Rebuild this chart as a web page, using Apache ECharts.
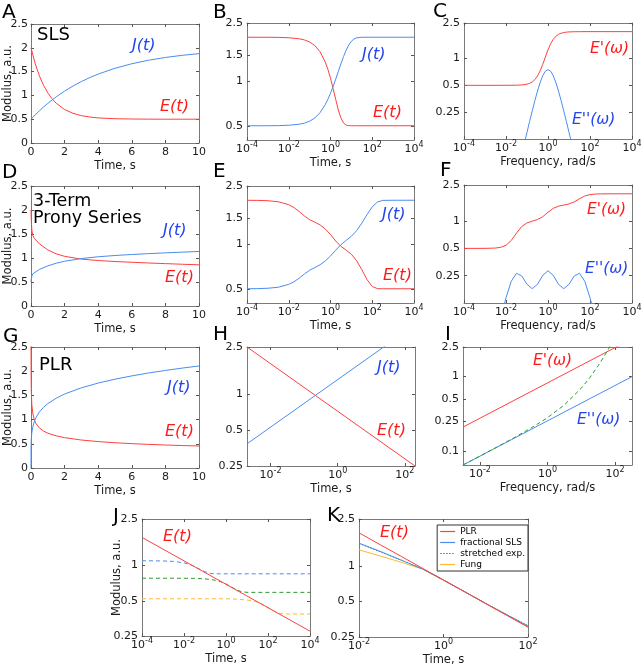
<!DOCTYPE html>
<html><head><meta charset="utf-8">
<script src="https://cdn.jsdelivr.net/npm/echarts@6/dist/echarts.min.js"></script>
<style>html,body{margin:0;padding:0;background:#fff}#c{width:642px;height:670px}</style>
</head><body><div id="c"></div><script>
// ---------------- data ----------------
// A: SLS, linear time
const A_t = [0,0.25,0.5,0.75,1,1.25,1.5,2,2.5,3,3.5,4,5,6,7,8,9,10];
const A_E = [2.0,1.668,1.410,1.209,1.052,0.930,0.835,0.703,0.623,0.575,0.545,0.527,0.510,0.504,0.501,0.500,0.500,0.500];
const A_J = [0.5,0.591,0.676,0.757,0.832,0.903,0.969,1.090,1.197,1.291,1.375,1.448,1.570,1.665,1.739,1.797,1.842,1.877];
// B: SLS, log time
const B_t = [1e-4,1e-3,0.00316,0.01,0.0316,0.0562,0.1,0.178,0.316,0.562,0.75,1,1.334,1.78,2.37,3.16,4.22,5.62,7.5,10,13.3,17.8,31.6,100,1000,1e4];
const B_E = [2.0,1.999,1.995,1.985,1.953,1.918,1.857,1.756,1.593,1.355,1.209,1.052,0.895,0.754,0.640,0.564,0.522,0.505,0.501,0.500,0.500,0.500,0.500,0.500,0.500,0.500];
const B_J = [0.500,0.500,0.501,0.504,0.512,0.521,0.537,0.565,0.614,0.697,0.757,0.832,0.925,1.038,1.171,1.320,1.477,1.633,1.770,1.877,1.947,1.982,1.999,2.0,2.0,2.0];
// C: SLS, frequency
const C_w = [1e-4,1e-3,0.01,0.0316,0.0562,0.1,0.133,0.178,0.237,0.316,0.422,0.562,0.75,1,1.33,1.78,2.37,3.16,4.22,5.62,7.5,10,17.8,31.6,100,1000,1e4];
const C_Ep = [0.5,0.5,0.5002,0.5015,0.5047,0.5149,0.5262,0.546,0.5799,0.636,0.7264,0.860,1.04,1.25,1.46,1.640,1.7736,1.864,1.9201,1.954,1.9738,1.985,1.995,1.9985,2.0,2.0,2.0];
const C_Epp = [0.00015,0.0015,0.015,0.0474,0.0841,0.1485,0.1966,0.2585,0.3367,0.4312,0.537,0.6408,0.72,0.75,0.72,0.6408,0.537,0.4312,0.3367,0.2585,0.1966,0.1485,0.0841,0.0474,0.015,0.0015,0.00015];
// D: 3-term Prony series, linear time
const D_t = [0,0.01,0.02,0.05,0.1,0.2,0.5,1,1.5,2,3,4,5,6,7,8,9,10];
const D_E = [2.0,1.865,1.764,1.586,1.476,1.407,1.295,1.168,1.087,1.035,0.977,0.947,0.927,0.911,0.896,0.883,0.870,0.858];
const D_J = [0.5,0.536,0.564,0.622,0.668,0.704,0.762,0.836,0.891,0.932,0.989,1.026,1.052,1.073,1.091,1.107,1.122,1.137];
// E: Prony, log time
const E_t = [1e-4,3.16e-4,1e-3,0.00316,0.01,0.0178,0.0316,0.0562,0.1,0.178,0.316,0.562,1,1.78,3.16,5.62,10,17.8,31.6,56.2,100,178,316,1000,1e4];
const E_E = [1.9985,1.995,1.985,1.953,1.865,1.784,1.678,1.564,1.476,1.418,1.359,1.276,1.168,1.056,0.971,0.916,0.858,0.776,0.674,0.577,0.518,0.501,0.500,0.500,0.500];
const E_J = [0.500,0.501,0.504,0.512,0.536,0.558,0.590,0.630,0.668,0.697,0.728,0.772,0.836,0.915,0.997,1.066,1.137,1.242,1.396,1.597,1.805,1.946,1.995,2.0,2.0];
// F: Prony, frequency
const F_w = [1e-4,1e-3,0.00316,0.00562,0.01,0.0178,0.0316,0.0562,0.1,0.178,0.316,0.562,1,1.78,3.16,5.62,10,17.8,31.6,56.2,100,178,316,1000,1e4];
const F_Ep = [0.5,0.5004,0.5045,0.5138,0.5413,0.611,0.7373,0.8716,0.955,0.9985,1.040,1.1185,1.25,1.3815,1.46,1.5015,1.545,1.6284,1.7627,1.889,1.9587,1.9862,1.9955,1.9996,2.0];
const F_Epp = [0.0015,0.0155,0.0486,0.0848,0.1428,0.2169,0.266,0.2483,0.2012,0.1797,0.2011,0.2525,0.2833,0.2525,0.2011,0.1797,0.2012,0.2483,0.266,0.2169,0.1428,0.0848,0.0486,0.0155,0.0015];
// G: PLR, linear time
const G_tE = [0.001,0.002,0.005,0.01,0.02,0.05,0.1,0.2,0.3,0.5,0.75,1,1.5,2,3,4,5,6,7,8,9,10];
const G_E = [2.87,2.5,2.077,1.809,1.575,1.311,1.141,0.994,0.916,0.827,0.763,0.72,0.664,0.627,0.578,0.546,0.522,0.503,0.488,0.475,0.464,0.454];
const G_tJ = [0,0.0001,0.001,0.005,0.01,0.02,0.05,0.1,0.2,0.3,0.5,0.75,1,1.5,2,3,4,5,6,7,8,9,10];
const G_J = [0,0.211,0.334,0.461,0.530,0.608,0.730,0.839,0.964,1.045,1.158,1.256,1.33,1.442,1.528,1.657,1.755,1.835,1.903,1.963,2.016,2.064,2.108];
// H: PLR, log time
const H_t = [0.002,200];
const H_E = [2.5,0.25];
const H_J = [0.384,3.84];
// I: PLR, frequency
const I_w = [0.00316,316];
const I_Ep = [0.21,3.23];
const I_Epp = [0.065,1.0];
const I_wN = [0.00316,0.01,0.0316,0.1,0.316,1,3.16,10,17.8,31.6,56.2,100];
const I_EppN = [0.0651,0.0857,0.1131,0.1501,0.2021,0.2808,0.4171,0.700,0.967,1.401,2.125,3.36];
// J: PLR vs SLS fits
const J_t = [1e-4,1e4];
const J_E = [1.74,0.275];
const J_tB = [1e-4,1e-3,0.00316,0.01,0.0178,0.0316,0.0562,0.1,0.178,0.316,1,10,100,1000,1e4];
const J_B = [1.0995,1.095,1.085,1.055,1.025,0.983,0.931,0.884,0.857,0.850,0.85,0.85,0.85,0.85,0.85];
const J_tG = [1e-4,0.01,0.0316,0.1,0.178,0.316,0.562,1,1.78,3.16,5.62,10,31.6,100,1000,1e4];
const J_G = [0.78,0.779,0.7765,0.769,0.761,0.748,0.7265,0.6955,0.657,0.620,0.597,0.5905,0.59,0.59,0.59,0.59];
const J_tO = [1e-4,0.01,1,3.16,10,17.8,31.6,56.2,100,178,316,562,1000,1e4];
const J_O = [0.52,0.52,0.52,0.516,0.508,0.500,0.486,0.466,0.439,0.412,0.393,0.386,0.385,0.385];
// K: model comparison
const K_t = [0.01,0.0316,0.1,0.316,1,3.16,10,31.6,100];
const K_PLR = [1.909,1.515,1.2045,0.957,0.76,0.604,0.4795,0.381,0.3026];
const K_frac = [1.56,1.33,1.12,0.945,0.76,0.605,0.48,0.385,0.31];
const K_str = [1.55,1.32,1.12,0.945,0.76,0.605,0.482,0.387,0.312];
const K_fung = [1.37,1.215,1.075,0.94,0.755,0.605,0.482,0.383,0.305];
const K_names = ['PLR','fractional SLS','stretched exp.','Fung'];
// tick labels
const linX = [0,10,2], linY = [0,2.5,0.5];
const ticksX8 = [1e-4,1e-2,1,1e2,1e4];
const ticksX4 = [1e-2,1,1e2];
const ticksYB = [0.5,1,1.5,2.5];
const ticksYC = [0.25,0.5,1,2.5];
const ticksYI = [0.1,0.25,0.5,1,2.5];

// ---------------- styling / layout ----------------
const FONT = 'DejaVu Sans';
const AX = '#7a7a7a', LC = '#1a1a1a';
const RED = '#ff4040', BLUE = '#4a8cf0', GREEN = '#2e9a2e', ORANGE = '#ffb833';
const TRED = '#ff1a1a', TBLUE = '#2244ee';
const grid = [], xAxis = [], yAxis = [], series = [], graphic = [];

function supFmt(v){ const e = Math.round(Math.log10(v)); return '10{s|' + e + '}'; }
function numFmt(v){ return String(+(+v).toPrecision(3)); }

function mkAxis(gi, dim, pos, spec, main, name, ngap){
  const a = {
    gridIndex: gi, position: pos, type: spec.log ? 'log' : 'value',
    min: spec.min, max: spec.max,
    axisLine: {show: true, onZero: false, lineStyle: {color: AX, width: 1}},
    axisTick: {show: true, inside: true, length: 3, lineStyle: {color: '#555', width: 1}},
    splitLine: {show: false}, minorTick: {show: false},
    axisLabel: {show: main, color: LC, fontFamily: FONT, fontSize: 11, hideOverlap: false},
    silent: true
  };
  if (spec.log) {
    a.logBase = 10;
    a.axisTick.customValues = spec.ticks;
    a.axisLabel.customValues = spec.ticks;
    if (dim === 'x') {
      a.axisLabel.formatter = supFmt;
      a.axisLabel.lineHeight = 16;
      a.axisLabel.margin = 1;
      a.axisLabel.rich = {s: {fontSize: 8, fontFamily: FONT, color: LC, verticalAlign: 'top', lineHeight: 8}};
    } else {
      a.axisLabel.formatter = numFmt;
      a.axisLabel.margin = 4;
    }
  } else {
    a.interval = spec.interval;
    a.axisLabel.margin = dim === 'x' ? 4 : 3;
    a.axisLabel.formatter = numFmt;
  }
  if (main && name) {
    a.name = name; a.nameLocation = 'middle'; a.nameMoveOverlap = false;
    a.nameTextStyle = {fontFamily: FONT, fontSize: 11.5, color: LC};
    if (dim === 'x') { a.nameGap = 17; } else { a.nameGap = ngap || 17; a.nameRotate = 90; }
  }
  return a;
}

function panel(box, xs, ys, xname, yname, ngap){
  const gi = grid.length;
  grid.push({left: box[0], top: box[1], width: box[2], height: box[3], containLabel: false, outerBoundsMode: 'none', show: false});
  xAxis.push(mkAxis(gi, 'x', 'bottom', xs, true, xname));
  xAxis.push(mkAxis(gi, 'x', 'top', xs, false));
  yAxis.push(mkAxis(gi, 'y', 'left', ys, true, yname, ngap));
  yAxis.push(mkAxis(gi, 'y', 'right', ys, false));
  return gi;
}
function line(gi, xs, ys, color, type, name){
  series.push({
    type: 'line', name: name, xAxisIndex: 2*gi, yAxisIndex: 2*gi,
    data: xs.map((x, i) => [x, ys[i]]),
    symbol: 'none', showSymbol: false, clip: true, silent: true,
    lineStyle: {color: color, width: 1, type: type || 'solid'},
    itemStyle: {color: color}, animation: false, z: 3
  });
}
function txt(s, x, y, size, color, italic){
  graphic.push({type: 'text', x: x, y: y, silent: true, z: 10,
    style: {text: s, fill: color, font: (italic ? 'italic ' : '') + size + 'px "' + FONT + '"',
      align: 'left', verticalAlign: 'middle', textAlign: 'left', textVerticalAlign: 'middle', lineHeight: 17}});
}

const LIN = {log: false, min: linX[0], max: linX[1], interval: linX[2]};
const LINY = {log: false, min: linY[0], max: linY[1], interval: linY[2]};
const TIME = 'Time, s', FREQ = 'Frequency, rad/s', MOD = 'Modulus, a.u.';

// A
let g = panel([31,24,168,119], LIN, LINY, TIME, MOD);
line(g, A_t, A_E, RED); line(g, A_t, A_J, BLUE);
// B
g = panel([247,23,167,117], {log:true,min:1e-4,max:1e4,ticks:ticksX8}, {log:true,min:0.4,max:2.5,ticks:ticksYB}, TIME);
line(g, B_t, B_E, RED); line(g, B_t, B_J, BLUE);
// C
g = panel([464,23,168,116], {log:true,min:1e-4,max:1e4,ticks:ticksX8}, {log:true,min:0.125,max:2.5,ticks:ticksYC}, FREQ);
line(g, C_w, C_Ep, RED); line(g, C_w, C_Epp, BLUE);
// D
g = panel([31,186,168,120], LIN, LINY, TIME, MOD);
line(g, D_t, D_E, RED); line(g, D_t, D_J, BLUE);
// E
g = panel([247,186,167,117], {log:true,min:1e-4,max:1e4,ticks:ticksX8}, {log:true,min:0.4,max:2.5,ticks:ticksYB}, TIME);
line(g, E_t, E_E, RED); line(g, E_t, E_J, BLUE);
// F
g = panel([464,185,168,118], {log:true,min:1e-4,max:1e4,ticks:ticksX8}, {log:true,min:0.125,max:2.5,ticks:ticksYC}, FREQ);
line(g, F_w, F_Ep, RED); line(g, F_w, F_Epp, BLUE);
// G
g = panel([31,347,168,121], LIN, LINY, TIME, MOD);
line(g, G_tE, G_E, RED); line(g, G_tJ, G_J, BLUE);
// H
g = panel([247,347,168,119], {log:true,min:0.002,max:200,ticks:ticksX4}, {log:true,min:0.25,max:2.5,ticks:ticksYC}, TIME);
line(g, H_t, H_E, RED); line(g, H_t, H_J, BLUE);
// I
g = panel([463,347,169,118], {log:true,min:0.00316,max:316,ticks:ticksX4}, {log:true,min:0.065,max:2.5,ticks:ticksYI}, FREQ);
line(g, I_w, I_Ep, RED); line(g, I_w, I_Epp, BLUE); line(g, I_wN, I_EppN, GREEN, [4,3]);
// J
g = panel([142,519,168,117], {log:true,min:1e-4,max:1e4,ticks:ticksX8}, {log:true,min:0.25,max:2.5,ticks:ticksYC}, TIME, MOD, 18.5);
line(g, J_tB, J_B, BLUE, [4,3]); line(g, J_tG, J_G, GREEN, [4,3]); line(g, J_tO, J_O, ORANGE, [4,3]);
line(g, J_t, J_E, RED);
// K
g = panel([359,519,169,118], {log:true,min:0.01,max:100,ticks:ticksX4}, {log:true,min:0.25,max:2.5,ticks:ticksYC}, TIME);
line(g, K_t, K_fung, ORANGE, 'solid', K_names[3]);
line(g, K_t, K_str, GREEN, [1.5,1.5], K_names[2]);
line(g, K_t, K_frac, BLUE, 'solid', K_names[1]);
line(g, K_t, K_PLR, RED, 'solid', K_names[0]);

// panel letters
[['A',2,13],['B',213,13],['C',433,12],['D',2,173],['E',213,172],['F',440,171],['G',3,337],['H',213,335],['I',445,335],['J',113,517],['K',327,516]]
  .forEach(l => txt(l[0], l[1], l[2], 20, '#000'));
// annotations
txt('SLS', 37, 35, 18, '#000');
txt('3-Term\nProny Series', 33, 210, 17.5, '#000');
txt('PLR', 39, 365, 18, '#000');
txt('J(t)', 132, 46, 16, TBLUE, true); txt('E(t)', 160, 107, 16, TRED, true);
txt('J(t)', 362, 55, 16, TBLUE, true); txt('E(t)', 373, 113, 16, TRED, true);
txt("E'(ω)", 590, 49, 15.5, TRED, true); txt("E''(ω)", 572, 120, 15.5, TBLUE, true);
txt('J(t)', 163, 231, 16, TBLUE, true); txt('E(t)', 165, 278, 16, TRED, true);
txt('J(t)', 382, 215, 16, TBLUE, true); txt('E(t)', 383, 276, 16, TRED, true);
txt("E'(ω)", 587, 210, 15.5, TRED, true); txt("E''(ω)", 585, 269, 15.5, TBLUE, true);
txt('J(t)', 167, 388, 16, TBLUE, true); txt('E(t)', 165, 432, 16, TRED, true);
txt('J(t)', 377, 368, 16, TBLUE, true); txt('E(t)', 377, 431, 16, TRED, true);
txt("E'(ω)", 533, 361, 15.5, TRED, true); txt("E''(ω)", 577, 420, 15.5, TBLUE, true);
txt('E(t)', 163, 537, 16, TRED, true);
txt('E(t)', 380, 533, 16, TRED, true);

// legend icons: short line samples (solid, or dotted for the stretched exponential)
const SOLID = 'path://M0 0H15V1.2H0Z';
const DOTTED = 'path://M0 0H1.5V1.2H0Z M3 0H4.5V1.2H3Z M6 0H7.5V1.2H6Z M9 0H10.5V1.2H9Z M12 0H13.5V1.2H12Z M15 0H15V1.2H15Z';
const legendData = K_names.map((n, i) => ({name: n, icon: i === 2 ? DOTTED : SOLID}));

const chart = echarts.init(document.getElementById('c'), null, {renderer: 'canvas', width: 642, height: 670});
chart.setOption({
  animation: false, backgroundColor: '#fff',
  textStyle: {fontFamily: FONT},
  grid: grid, xAxis: xAxis, yAxis: yAxis, series: series, graphic: graphic,
  legend: {
    data: legendData, orient: 'vertical', right: 114, top: 525,
    itemWidth: 15, itemHeight: 8, itemGap: 2, padding: [2, 3, 2, 3], symbolKeepAspect: true,
    backgroundColor: '#fff', borderColor: '#333', borderWidth: 1, borderRadius: 0,
    selectedMode: false, textStyle: {fontFamily: FONT, fontSize: 9, color: '#000'}
  }
});
</script></body></html>
